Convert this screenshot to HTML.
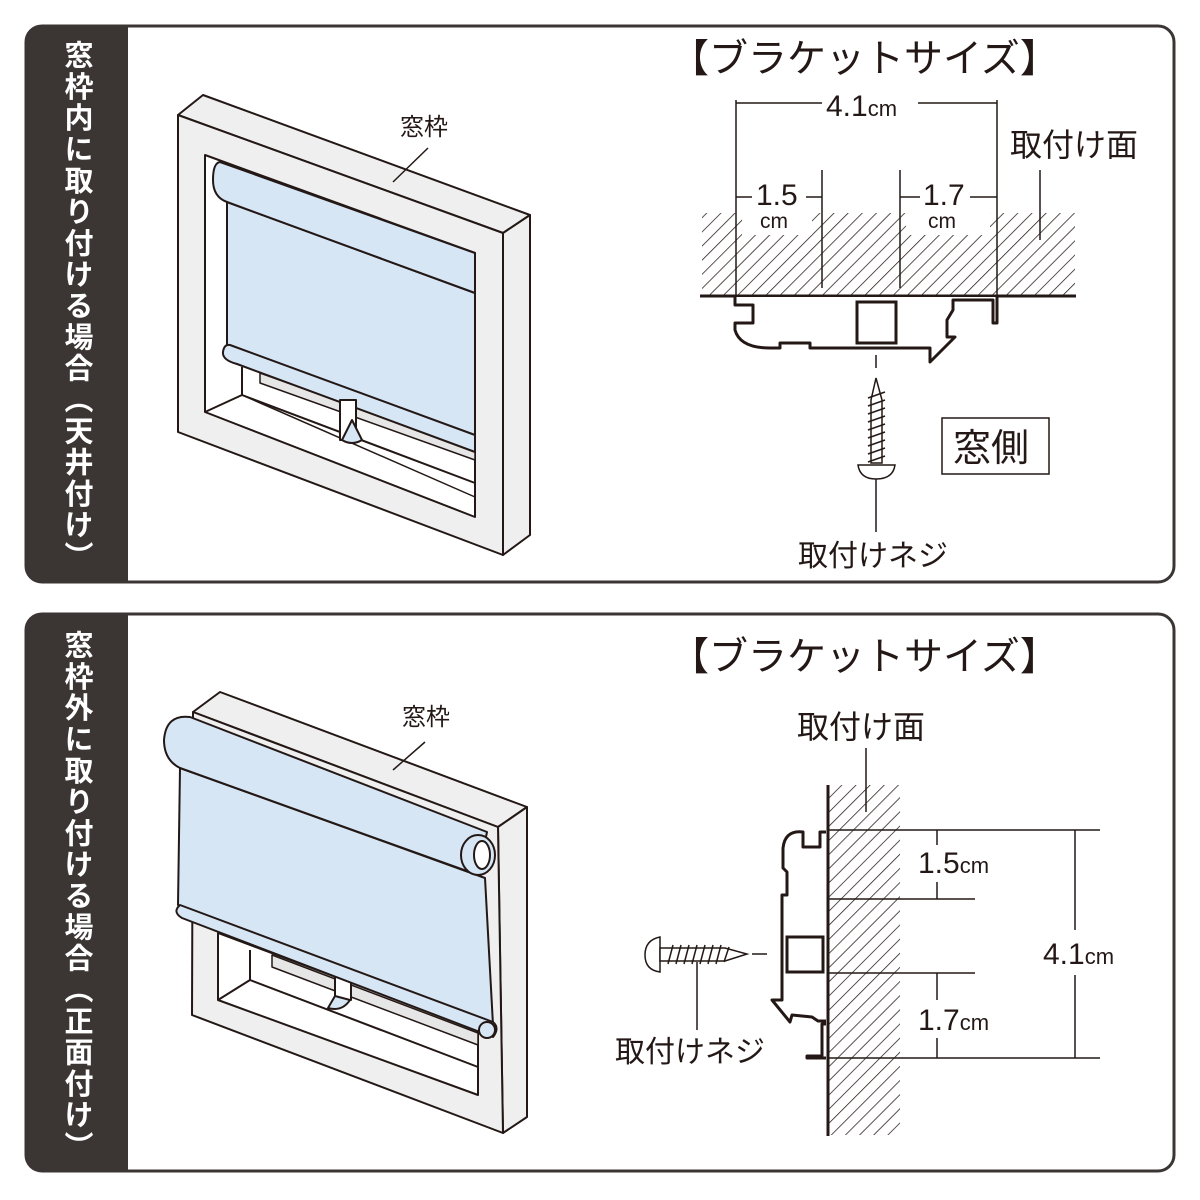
<!DOCTYPE html>
<html><head><meta charset="utf-8"><style>
html,body{margin:0;padding:0;background:#fff;}
svg{display:block;}
text{font-family:"Liberation Sans","Noto Sans CJK JP",sans-serif;fill:#231815;}
.side{font-family:"Liberation Sans","Noto Sans CJK JP",sans-serif;font-weight:bold;fill:#fff;font-size:29px;writing-mode:tb;}
</style></head><body>
<svg width="1200" height="1200" viewBox="0 0 1200 1200" xmlns="http://www.w3.org/2000/svg">
<defs>
<pattern id="h" width="10" height="10" patternUnits="userSpaceOnUse" patternTransform="rotate(45)">
<line x1="0" y1="0" x2="0" y2="10" stroke="#231815" stroke-width="1.5"/>
</pattern>
<clipPath id="c1"><rect x="25" y="25" width="1150" height="558" rx="16"/></clipPath>
<clipPath id="c2"><rect x="25" y="613" width="1150" height="559" rx="16"/></clipPath>
</defs>

<rect x="26" y="26" width="1148" height="556" rx="16" fill="#fff" stroke="#3b3534" stroke-width="3"/>
<rect x="25" y="25" width="103" height="558" fill="#3b3534" clip-path="url(#c1)"/>
<rect x="26" y="614" width="1148" height="557" rx="16" fill="#fff" stroke="#3b3534" stroke-width="3"/>
<rect x="25" y="613" width="103" height="559" fill="#3b3534" clip-path="url(#c2)"/>
<text class="side" x="76" y="40" textLength="530" lengthAdjust="spacing">窓枠内に取り付ける場合（天井付け）</text>
<text class="side" x="76" y="630" textLength="530" lengthAdjust="spacing">窓枠外に取り付ける場合（正面付け）</text>

<!-- TOP WINDOW -->
<g stroke="#231815" stroke-width="2" stroke-linejoin="round" fill="#efefef">
<polygon points="178,115 203,95 530,215 503,233"/>
<polygon points="503,233 530,215 530,535 503,555"/>
<polygon points="178,115 503,233 503,555 178,432"/>
<polygon points="205,155 475,253 475,517 205,412" fill="#fff"/>
<polyline points="205,412 242,395 475,483" fill="none"/>
<polyline points="242,367 242,395" fill="none"/>
<polygon points="260,373 475,450 475,460 260,383" fill="#e6e6e6" stroke-width="1.5"/>
<polyline points="242,395 475,497" fill="none" stroke-width="1.5"/>
<path d="M227,202 L475,293 L475,437 L227,345 Z" fill="#d6e6f5"/>
<path d="M220,162 L475,253 L475,293 L227,202 Q213,197 213,180 Q213,163 220,162 Z" fill="#d6e6f5"/>
<path d="M230,345 L475,435 L475,452 L237,364 Q222,360 223,352 Q224,344 230,345 Z" fill="#d6e6f5"/>
<rect x="340" y="400" width="16" height="40" fill="#fff"/>
<path d="M342,440 L352,420 L362,440 Q352,446 342,440 Z" fill="#d6e6f5"/>
</g>
<line x1="393" y1="182" x2="428" y2="148" stroke="#231815" stroke-width="1.5"/>
<text x="400" y="135" font-size="24">窓枠</text>

<!-- TOP BRACKET -->
<text x="670" y="72" font-size="39">【ブラケットサイズ】</text>
<rect x="702" y="213" width="373" height="83" fill="url(#h)"/>
<rect x="742" y="180" width="70" height="55" fill="#fff"/>
<rect x="906" y="180" width="84" height="55" fill="#fff"/>
<line x1="700" y1="296" x2="1076" y2="296" stroke="#231815" stroke-width="3"/>
<g stroke="#231815" stroke-width="1.5" fill="none">
<line x1="736" y1="100" x2="736" y2="296"/>
<line x1="997" y1="100" x2="997" y2="296"/>
<line x1="736" y1="103" x2="822" y2="103"/>
<line x1="918" y1="103" x2="997" y2="103"/>
<line x1="822" y1="170" x2="822" y2="288"/>
<line x1="900" y1="170" x2="900" y2="288"/>
<line x1="736" y1="197" x2="752" y2="197"/>
<line x1="806" y1="197" x2="822" y2="197"/>
<line x1="900" y1="197" x2="920" y2="197"/>
<line x1="970" y1="197" x2="997" y2="197"/>
<line x1="1040" y1="170" x2="1040" y2="240"/>
</g>
<text x="826" y="116" font-size="30">4.1<tspan font-size="22">cm</tspan></text>
<text x="756" y="205" font-size="30">1.5</text>
<text x="760" y="228" font-size="21">cm</text>
<text x="923" y="205" font-size="30">1.7</text>
<text x="928" y="228" font-size="21">cm</text>
<text x="1010" y="156" font-size="32">取付け面</text>
<path d="M735,297 L735,305 L753,305 L753,323 L735,323 L735,330 Q740,348 770,348 L780,348 L780,343 L810,343 L810,348 L930,348 L930,362 L955,337 L947,337 L947,320 L953,310 L953,300 L993,300 L993,323 L997,323 L997,297" fill="#fff" stroke="#231815" stroke-width="3" stroke-linejoin="round"/>
<rect x="857" y="302" width="39" height="41" fill="#fff" stroke="#231815" stroke-width="3"/>
<line x1="876" y1="355" x2="876" y2="368" stroke="#231815" stroke-width="1.5"/>
<g stroke="#231815" stroke-width="1.5" fill="#fff">
<path d="M876,378 L871,400 L871,463 L882,463 L882,400 Z"/>
<path d="M868,398 L885,392 M868,406 L885,400 M868,414 L885,408 M868,422 L885,416 M868,430 L885,424 M868,438 L885,432 M868,446 L885,440 M868,454 L885,448 M868,462 L885,456" fill="none"/>
<path d="M858,465 L895,465 Q893,479 876,479 Q860,479 858,465 Z"/>
<line x1="876" y1="479" x2="876" y2="532" fill="none"/>
</g>
<text x="798" y="566" font-size="30">取付けネジ</text>
<rect x="942" y="418" width="107" height="56" fill="#fff" stroke="#231815" stroke-width="1.5"/>
<text x="953" y="461" font-size="38">窓側</text>

<!-- BOTTOM WINDOW -->
<g stroke="#231815" stroke-width="2" stroke-linejoin="round" fill="#efefef">
<polygon points="193,712 220,692 527,807 498,827"/>
<polygon points="498,827 527,807 527,1117 503,1133"/>
<polygon points="193,712 498,827 503,1133 192,1015"/>
<polygon points="218,933 478,1030 478,1095 218,1000" fill="#fff"/>
<polyline points="218,1000 250,980 478,1067" fill="none"/>
<polyline points="250,950 250,980" fill="none"/>
<polyline points="478,1048 478,1048" fill="none"/>
<polygon points="272,955 478,1033 478,1045 272,967" fill="#e6e6e6" stroke-width="1.5"/>
<rect x="335" y="960" width="16" height="40" fill="#fff"/>
<path d="M328,1008 L335,996 L350,1000 Q342,1012 328,1008 Z" fill="#d6e6f5"/>
<path d="M180,768 L485,878 L493,1025 L178,905 Z" fill="#d6e6f5"/>
<path d="M180,905 L493,1022 Q500,1028 493,1037 L182,918 Q172,912 180,905 Z" fill="#d6e6f5"/>
<circle cx="487" cy="1030" r="8" fill="#d6e6f5"/>
<path d="M190,717 L487,832 L478,875 L180,768 Q164,760 164,740 Q166,714 190,717 Z" fill="#d6e6f5"/>
<ellipse cx="478" cy="855" rx="17" ry="20" fill="#d6e6f5"/>
<ellipse cx="482" cy="855" rx="8" ry="14" fill="#fff"/>
</g>
<line x1="393" y1="770" x2="425" y2="742" stroke="#231815" stroke-width="1.5"/>
<text x="402" y="725" font-size="24">窓枠</text>

<!-- BOTTOM BRACKET -->
<text x="670" y="670" font-size="39">【ブラケットサイズ】</text>
<text x="797" y="738" font-size="32">取付け面</text>
<rect x="828" y="785" width="72" height="350" fill="url(#h)"/>
<line x1="866" y1="748" x2="866" y2="812" stroke="#231815" stroke-width="1.5"/>
<line x1="828" y1="785" x2="828" y2="1136" stroke="#231815" stroke-width="3"/>
<g stroke="#231815" stroke-width="1.5">
<line x1="828" y1="830" x2="1100" y2="830"/>
<line x1="828" y1="899" x2="975" y2="899"/>
<line x1="828" y1="973" x2="975" y2="973"/>
<line x1="828" y1="1058" x2="1100" y2="1058"/>
<line x1="937" y1="830" x2="937" y2="845"/>
<line x1="937" y1="882" x2="937" y2="899"/>
<line x1="937" y1="973" x2="937" y2="1000"/>
<line x1="937" y1="1038" x2="937" y2="1058"/>
<line x1="1075" y1="830" x2="1075" y2="930"/>
<line x1="1075" y1="975" x2="1075" y2="1058"/>
</g>
<text x="918" y="873" font-size="30">1.5<tspan font-size="22">cm</tspan></text>
<text x="918" y="1030" font-size="30">1.7<tspan font-size="22">cm</tspan></text>
<text x="1043" y="964" font-size="30">4.1<tspan font-size="22">cm</tspan></text>
<path d="M826,832 L820,832 L820,847 L803,847 L803,832 Q785,830 783,848 L783,868 L787,872 L787,895 L782,895 L782,1000 L772,1000 L790,1022 L792,1015 L812,1017 L818,1021 L826,1021 M826,1024 L822,1024 L822,1056 L807,1056 L807,1058 L826,1058" fill="none" stroke="#231815" stroke-width="3" stroke-linejoin="round"/>
<rect x="787" y="937" width="36" height="35" fill="#fff" stroke="#231815" stroke-width="3"/>
<line x1="752" y1="954" x2="767" y2="954" stroke="#231815" stroke-width="1.5"/>
<g stroke="#231815" stroke-width="1.5" fill="#fff">
<path d="M660,937 Q645,940 645,955 Q645,970 660,972 Z"/>
<path d="M660,948 L725,948 L747,954 L725,961 L660,961 Z"/>
<path d="M668,964 L673,945 M676,964 L681,945 M684,964 L689,945 M692,964 L697,945 M700,964 L705,945 M708,964 L713,945 M716,964 L721,945 M724,962 L729,947" fill="none"/>
<line x1="697" y1="962" x2="697" y2="1030"/>
</g>
<text x="615" y="1062" font-size="30">取付けネジ</text>
</svg>
</body></html>
